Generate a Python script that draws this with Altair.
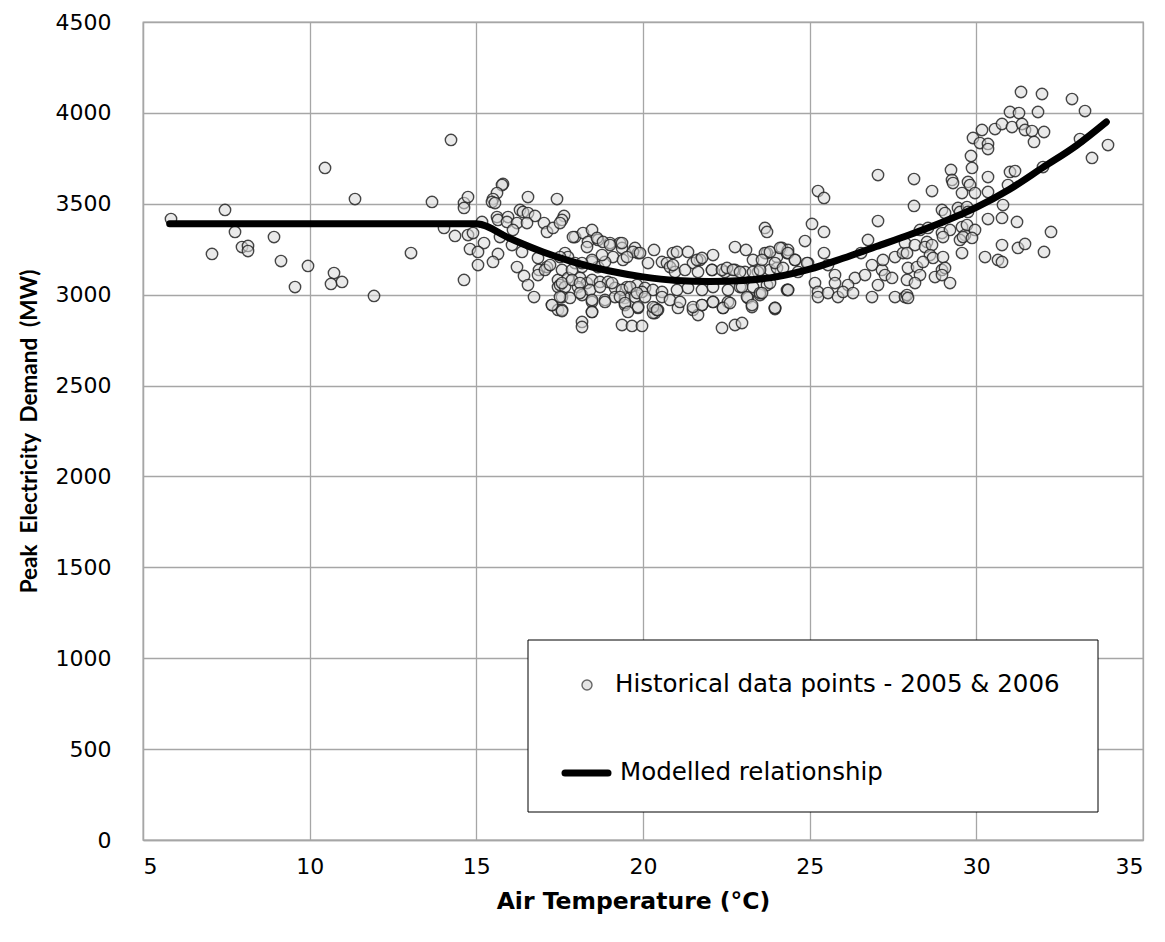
import altair as alt
import pandas as pd

# ---- Historical data points (air temperature °C, peak demand MW) ----
temp_a = [5.84, 7.46, 7.76, 7.07, 7.97, 8.15, 8.15, 8.93, 9.14, 9.56, 9.95, 10.46, 10.73, 10.64, 10.97,
          11.36, 11.93, 13.04, 13.67, 14.24, 14.63, 14.63, 14.36, 14.03, 14.63]
mw_a = [3416, 3466, 3345, 3224, 3262, 3268, 3240, 3317, 3185, 3042, 3158, 3697, 3119, 3059, 3070,
        3526, 2993, 3229, 3510, 3851, 3504, 3477, 3323, 3367, 3081]

temp_b = [15.80, 15.77, 15.62, 15.50, 15.47, 15.56, 14.75, 16.55, 17.42, 15.62, 15.65, 15.95, 15.92, 16.31,
          16.40, 16.55, 16.76, 16.22, 16.10, 16.52, 17.03, 17.12, 17.30, 15.17, 14.75, 14.90, 15.23, 14.81,
          15.05, 15.65, 15.50, 15.05, 15.71, 16.07, 16.37, 16.22, 16.43, 16.55, 16.73, 16.85, 16.88, 16.85,
          17.12, 17.06, 17.21, 17.27, 17.45, 17.45, 17.45]
mw_b = [3609, 3603, 3559, 3526, 3510, 3504, 3537, 3537, 3526, 3427, 3411, 3427, 3400, 3466,
        3455, 3449, 3433, 3394, 3356, 3394, 3394, 3345, 3367, 3400, 3328, 3339, 3284, 3251,
        3235, 3224, 3180, 3163, 3317, 3273, 3235, 3152, 3103, 3053, 2987, 3202, 3136, 3108,
        3152, 3136, 3163, 2943, 3081, 3042, 2916]

temp_c = [17.63, 17.57, 17.51, 17.96, 18.20, 18.47, 18.35, 18.65, 19.01, 19.31, 19.37, 19.76, 19.85, 19.10,
          19.40, 20.33, 20.90, 20.57, 20.72, 20.81, 17.66, 17.75, 17.51, 17.96, 18.17, 18.47, 18.65, 18.86,
          17.57, 17.75, 17.51, 17.66, 18.11, 18.32, 18.05, 18.47, 18.71, 18.95, 19.16, 19.52, 19.82, 20.06,
          20.30, 20.57, 17.57, 17.81, 18.17, 18.47, 18.86, 19.16, 19.46, 19.76, 19.97, 17.57, 18.47, 19.46,
          19.85, 20.36, 20.36, 18.17, 18.17, 19.37, 19.67, 19.97]
mw_c = [3433, 3411, 3394, 3317, 3339, 3356, 3290, 3301, 3284, 3284, 3257, 3257, 3229, 3207,
        3191, 3246, 3229, 3180, 3174, 3152, 3229, 3207, 3207, 3174, 3152, 3180, 3152, 3180,
        3136, 3092, 3053, 3042, 3092, 3064, 3042, 3081, 3070, 3070, 3037, 3042, 3053, 3037,
        3026, 3015, 2987, 2982, 2998, 2960, 2971, 2987, 2982, 2987, 3015, 2916, 2905, 2943,
        2927, 2927, 2899, 2850, 2822, 2833, 2828, 2828]

temp_d = [23.66, 23.72, 21.02, 21.35, 22.76, 23.09, 22.10, 21.71, 21.50, 23.30, 23.72, 24.17, 24.02, 24.32,
          22.07, 22.46, 22.76, 23.06, 23.45, 23.81, 24.02, 20.96, 21.26, 21.65, 21.02, 21.35, 21.77, 22.10,
          22.55, 22.91, 23.30, 23.72, 24.32, 21.05, 21.50, 21.77, 22.10, 22.40, 22.55, 23.15, 23.27, 23.51,
          21.65, 23.96, 22.37, 22.76, 22.97]
mw_d = [3367, 3345, 3235, 3235, 3262, 3246, 3218, 3191, 3174, 3191, 3229, 3257, 3207, 3229,
        3136, 3125, 3136, 3125, 3125, 3136, 3147, 3125, 3136, 3125, 3026, 3037, 3026, 3042,
        3026, 3042, 3042, 3053, 3026, 2927, 2916, 2943, 2960, 2927, 2960, 2982, 2932, 2998,
        2888, 2921, 2817, 2833, 2844]

temp_e = [27.05, 25.25, 25.43, 25.07, 25.43, 24.86, 27.05, 26.75, 25.43, 26.54, 27.56, 27.80, 24.35, 24.56,
          24.95, 25.55, 25.76, 26.36, 26.66, 26.87, 27.17, 27.26, 27.47, 27.20, 25.16, 25.76, 26.15, 27.05,
          24.35, 25.25, 25.25, 25.55, 25.85, 26.00, 26.30, 26.87, 27.56, 27.86]
mw_e = [3658, 3570, 3532, 3389, 3345, 3295, 3405, 3301, 3229, 3229, 3207, 3229, 3246, 3191,
        3174, 3163, 3108, 3092, 3108, 3163, 3136, 3108, 3092, 3191, 3064, 3064, 3053, 3053,
        3026, 3015, 2987, 3009, 2987, 3015, 3009, 2987, 2987, 2987]

temp_f = [30.17, 30.56, 30.77, 31.07, 29.90, 30.11, 30.35, 30.35, 29.84, 29.87, 29.24, 30.35, 31.01, 31.16,
          28.13, 28.67, 29.27, 29.30, 29.75, 29.81, 29.57, 29.96, 30.35, 30.95, 30.80, 28.13, 28.97, 29.06,
          29.45, 29.51, 29.72, 29.75, 30.35, 30.77, 31.22, 28.31, 28.55, 28.97, 29.21, 29.57, 29.66, 29.72,
          29.96, 27.86, 28.16, 28.52, 28.46, 28.67, 29.00, 29.51, 29.60, 29.87, 30.77, 31.25, 29.57, 30.26,
          30.65, 30.77, 27.92, 28.61, 28.70, 29.00, 27.95, 28.22, 28.40, 28.31, 28.76, 28.97, 29.06, 28.97,
          29.21, 27.92, 28.16, 27.92, 27.95]
mw_f = [3906, 3911, 3939, 3922, 3862, 3834, 3829, 3801, 3763, 3697, 3686, 3647, 3675, 3680,
        3636, 3570, 3631, 3614, 3620, 3603, 3559, 3559, 3565, 3603, 3493, 3488, 3466, 3449,
        3477, 3455, 3482, 3455, 3416, 3422, 3400, 3356, 3367, 3339, 3356, 3372, 3328, 3383,
        3356, 3284, 3273, 3290, 3262, 3273, 3317, 3301, 3317, 3312, 3273, 3257, 3229, 3207,
        3191, 3180, 3229, 3218, 3202, 3207, 3147, 3152, 3180, 3108, 3097, 3136, 3147, 3108,
        3064, 3081, 3064, 2998, 2982]

temp_g = [31.34, 31.97, 32.87, 33.26, 31.01, 31.28, 31.85, 31.37, 31.46, 31.67, 32.03, 31.73, 33.11, 33.95,
          33.47, 32.00, 32.24, 31.46, 32.03]
mw_g = [4115, 4104, 4076, 4010, 4005, 3999, 4005, 3939, 3906, 3900, 3895, 3840, 3856, 3823,
        3752, 3702, 3345, 3279, 3235]

temp_h = [20.90, 21.62, 21.77, 22.07, 22.37, 22.52, 22.70, 22.91, 23.30, 23.51, 20.57, 20.81, 21.11, 21.50,
          21.77, 22.10, 22.40, 22.61, 22.97, 23.12, 23.27, 23.51, 23.96, 20.30, 20.45]
mw_h = [3163, 3191, 3202, 3136, 3136, 3147, 3136, 3125, 3125, 3136, 2987, 2971, 2960, 2932,
        2943, 2960, 2927, 2954, 3042, 2987, 2943, 3009, 2927, 2899, 2916]

temp_i = [17.90, 18.62, 18.32, 18.80, 19.01, 19.37, 19.70, 19.91, 20.15, 19.52, 18.77, 18.47, 18.17, 17.87,
          17.57, 17.87, 18.11, 18.41, 18.71, 19.07, 19.37, 19.61, 19.82, 20.06, 17.51, 18.11, 18.47, 18.86,
          19.31, 19.46, 19.85, 20.30, 20.42, 17.27, 17.57, 18.47, 19.55]
mw_i = [3317, 3312, 3262, 3290, 3273, 3284, 3235, 3229, 3174, 3207, 3218, 3191, 3174, 3136,
        3064, 3081, 3064, 3026, 3042, 3064, 3026, 3042, 3009, 2987, 2987, 3009, 2971, 2960,
        2987, 2954, 2932, 2932, 2916, 2943, 2910, 2905, 2905]

temp_j = [23.66, 23.81, 23.57, 23.96, 24.11, 24.35, 24.56, 24.20, 24.65, 24.92, 23.57, 23.81, 24.35, 23.96]
mw_j = [3229, 3235, 3191, 3174, 3257, 3229, 3191, 3147, 3125, 3174, 3009, 3064, 3026, 2927]

# ---- Modelled relationship ----
model_temp = [5.8, 15.0, 16.0, 17.0, 18.0, 19.0, 20.0, 21.0, 22.0, 23.0, 24.0, 25.0, 26.0, 27.0,
              28.0, 29.0, 30.0, 31.0, 32.0, 33.0, 33.9]
model_mw = [3390, 3390, 3310, 3235, 3175, 3130, 3098, 3078, 3072, 3078, 3098, 3140, 3200, 3265,
            3330, 3400, 3480, 3580, 3700, 3820, 3950]

x_ticks = [5, 10, 15, 20, 25, 30, 35]
y_ticks = [0, 500, 1000, 1500, 2000, 2500, 3000, 3500, 4000, 4500]
legend_labels = ["Historical data points - 2005 & 2006", "Modelled relationship"]

temps = temp_a + temp_b + temp_c + temp_d + temp_e + temp_f + temp_g + temp_h + temp_i + temp_j
mws = mw_a + mw_b + mw_c + mw_d + mw_e + mw_f + mw_g + mw_h + mw_i + mw_j
points = pd.DataFrame({"temp": temps, "mw": mws})
model = pd.DataFrame({"temp": model_temp, "mw": model_mw})

TICK_FONT = "DejaVu Sans"
GRID = "#a6a6a6"
NB = "\u00a0"

x_enc = alt.X("temp:Q", scale=alt.Scale(domain=[5, 35], nice=False),
              axis=alt.Axis(values=x_ticks, format="d", title="Air Temperature (°C)",
                            titleFont="DejaVu Sans", titleFontSize=23.5, titleX=490, titleAlign="center"))
y_enc = alt.Y("mw:Q", scale=alt.Scale(domain=[0, 4500], nice=False),
              axis=alt.Axis(values=y_ticks, format="d",
                            title=f"Peak {NB}Electricity {NB}Demand {NB}(MW)",
                            titleFont="Lato", titleFontSize=22.5))

pts = alt.Chart(points).mark_point(
    shape="circle", size=130, filled=False, fill="#d9d9d9", fillOpacity=0.55,
    stroke="#262626", strokeWidth=1.4, strokeOpacity=0.85
).encode(x=x_enc, y=y_enc)

line = alt.Chart(model).mark_line(
    color="black", strokeWidth=7, strokeCap="round", strokeJoin="round", interpolate="monotone"
).encode(x="temp:Q", y="mw:Q")

one = pd.DataFrame({"k": [0]})
leg_box = alt.Chart(one).mark_rect(fill="white", stroke="black", strokeWidth=1).encode(
    x=alt.value(385), x2=alt.value(955), y=alt.value(618), y2=alt.value(790))
leg_pt = alt.Chart(one).mark_point(
    shape="circle", size=100, filled=False, fill="#d9d9d9", stroke="#262626", strokeWidth=1.4
).encode(x=alt.value(444), y=alt.value(663))
leg_line = alt.Chart(one).mark_rule(color="black", strokeWidth=7, strokeCap="round").encode(
    x=alt.value(422), x2=alt.value(465), y=alt.value(751))
lab_df = pd.DataFrame({"label": legend_labels})
leg_txt1 = alt.Chart(lab_df.iloc[[0]]).mark_text(
    align="left", baseline="middle", font="DejaVu Sans", fontSize=24.5, color="black"
).encode(x=alt.value(472), y=alt.value(663), text="label:N")
leg_txt2 = alt.Chart(lab_df.iloc[[1]]).mark_text(
    align="left", baseline="middle", font="DejaVu Sans", fontSize=24.5, color="black"
).encode(x=alt.value(477), y=alt.value(751), text="label:N")

chart = alt.layer(pts, line, leg_box, leg_pt, leg_line, leg_txt1, leg_txt2).properties(
    width=1000, height=818,
    autosize=alt.AutoSizeParams(type="none"),
    padding={"left": 135, "top": 14, "right": 14, "bottom": 90},
).configure_view(stroke=GRID, strokeWidth=1.3).configure_axis(
    grid=True, gridColor=GRID, gridWidth=1.3, domainColor=GRID, domainWidth=1.3,
    ticks=False, labelFont=TICK_FONT, labelFontSize=22, labelColor="black",
    titleFontWeight="bold", titleColor="black",
).configure_axisX(labelPadding=16, titlePadding=12).configure_axisY(
    labelPadding=32, titlePadding=14)

chart.save("out.html", embed_options={"renderer": "svg", "actions": False})
